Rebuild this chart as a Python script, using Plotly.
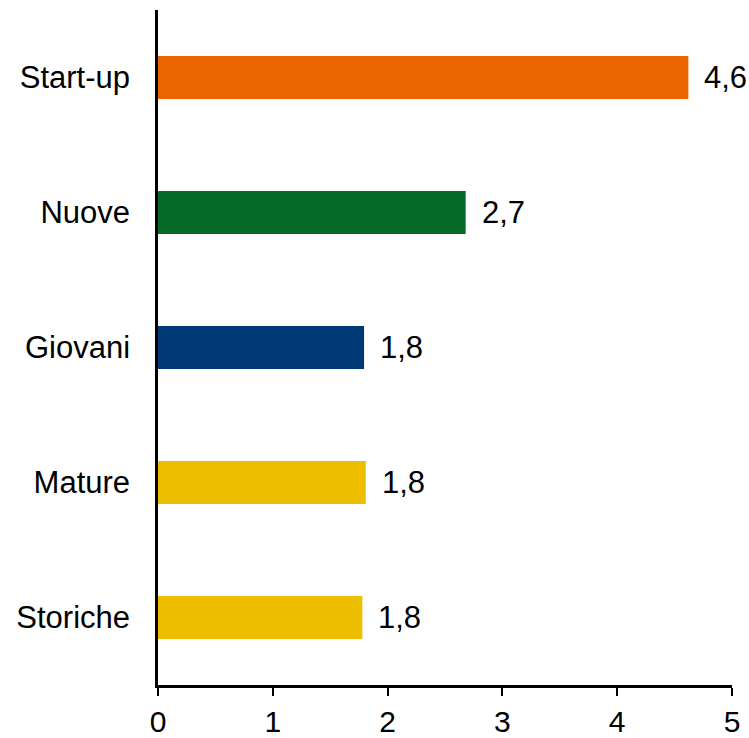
import plotly.graph_objects as go

categories = ["Start-up", "Nuove", "Giovani", "Mature", "Storiche"]
values = [4.62, 2.68, 1.795, 1.81, 1.78]
labels = ["4,6", "2,7", "1,8", "1,8", "1,8"]
colors = ["#EB6400", "#036B27", "#003A76", "#EDBE00", "#EDBE00"]
x_ticks = [0, 1, 2, 3, 4, 5]

FONT = "Liberation Sans, Arial, sans-serif"
FS = 31

fig = go.Figure()
fig.add_trace(go.Bar(
    x=values, y=categories, orientation="h",
    marker=dict(color=colors, line=dict(width=0)),
    width=0.32,
    hoverinfo="skip",
))

for c, v, t in zip(categories, values, labels):
    fig.add_annotation(x=v, y=c, text=t, showarrow=False, xanchor="left",
                       xshift=14, yanchor="middle",
                       font=dict(family=FONT, size=FS, color="black"))

fig.update_layout(
    width=749, height=738,
    margin=dict(l=158, r=17, t=10, b=53),
    paper_bgcolor="white", plot_bgcolor="white",
    showlegend=False,
    font=dict(family=FONT, size=FS, color="black"),
    xaxis=dict(range=[0, 5], tickvals=x_ticks, showgrid=False, zeroline=False,
               showline=True, linecolor="black", linewidth=2.5,
               ticks="outside", ticklen=8, tickwidth=2, tickcolor="black",
               tickfont=dict(family=FONT, size=30, color="black"),
               ticklabelstandoff=0, automargin=False),
    yaxis=dict(categoryorder="array", categoryarray=categories[::-1],
               showgrid=False, zeroline=False,
               showline=True, linecolor="black", linewidth=2.5,
               ticks="", ticklabelstandoff=19, automargin=False,
               tickfont=dict(family=FONT, size=FS, color="black")),
)

fig.write_html(
    "out.html",
    config={"displayModeBar": False},
    post_script="document.body.style.margin='0';document.body.style.overflow='hidden';",
)
